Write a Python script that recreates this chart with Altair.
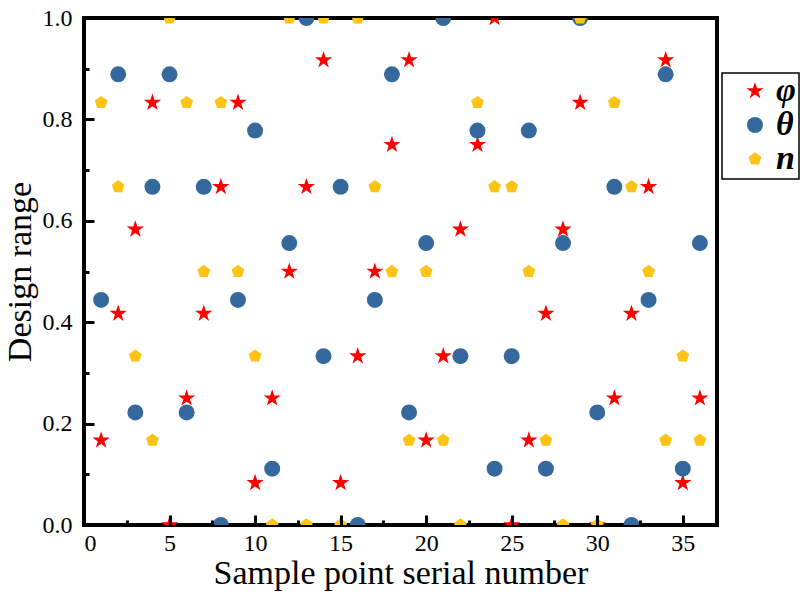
import altair as alt
import pandas as pd

# ---- data ----
sample_no = list(range(1, 37))
phi = [0.167, 0.417, 0.583, 0.833, 0.0, 0.25, 0.417, 0.667, 0.833, 0.083,
       0.25, 0.5, 0.667, 0.917, 0.083, 0.333, 0.5, 0.75, 0.917, 0.167,
       0.333, 0.583, 0.75, 1.0, 0.0, 0.167, 0.417, 0.583, 0.833, 0.0,
       0.25, 0.417, 0.667, 0.917, 0.083, 0.25]
theta = [0.444, 0.889, 0.222, 0.667, 0.889, 0.222, 0.667, 0.0, 0.444, 0.778,
         0.111, 0.556, 1.0, 0.333, 0.667, 0.0, 0.444, 0.889, 0.222, 0.556,
         1.0, 0.333, 0.778, 0.111, 0.333, 0.778, 0.111, 0.556, 1.0, 0.222,
         0.667, 0.0, 0.444, 0.889, 0.111, 0.556]
n_vals = [0.833, 0.667, 0.333, 0.167, 1.0, 0.833, 0.5, 0.833, 0.5, 0.333,
          0.0, 1.0, 0.0, 1.0, 0.0, 1.0, 0.667, 0.5, 0.167, 0.5,
          0.167, 0.0, 0.833, 0.667, 0.667, 0.5, 0.167, 0.0, 1.0, 0.0,
          0.833, 0.667, 0.5, 0.167, 0.333, 0.167]
series_names = ["φ", "θ", "n"]
x_major = [0, 5, 10, 15, 20, 25, 30, 35]
x_minor = [2.5, 7.5, 12.5, 17.5, 22.5, 27.5, 32.5]
y_major = [0.0, 0.2, 0.4, 0.6, 0.8, 1.0]
y_minor = [0.1, 0.3, 0.5, 0.7, 0.9]

rows = []
for name, vals in zip(series_names, [phi, theta, n_vals]):
    for s, v in zip(sample_no, vals):
        rows.append({"sample": s, "value": v, "series": name})
df = pd.DataFrame(rows)

STAR = ("M0,-1L0.225,-0.309L0.951,-0.309L0.363,0.118L0.588,0.809L0,0.382"
        "L-0.588,0.809L-0.363,0.118L-0.951,-0.309L-0.225,-0.309Z")
PENT = "M0,-1L0.951,-0.309L0.588,0.809L-0.588,0.809L-0.951,-0.309Z"

FONT = "Liberation Serif"
TICK = 10
MAJOR_DASH = [10, 2]        # full-length major tick
MINOR_DASH = [0, 5, 5, 0]   # only the outer half of a tick is drawn -> short minor tick

x_axis = alt.Axis(
    title="Sample point serial number",
    values=sorted(x_major + x_minor),
    labelExpr="datum.value % 5 == 0 ? datum.label : ''",
    ticks=True, tickSize=TICK, tickWidth=3, tickColor="black", offset=-TICK,
    tickOpacity=1,
    tickDash={"condition": {"test": "datum.value % 5 != 0", "value": MINOR_DASH},
              "value": MAJOR_DASH},
    domain=False, grid=False, labelPadding=6, labelFontSize=24,
    titleFontSize=34, titlePadding=1, labelFont=FONT, titleFont=FONT,
    titleFontWeight="normal", labelColor="black", titleColor="black",
    orient="bottom", zindex=1, labelOverlap=False,
)
y_axis = alt.Axis(
    title="Design range",
    values=sorted(y_major + y_minor),
    labelExpr="round(datum.value * 10) % 2 == 0 ? format(datum.value, '.1f') : ''",
    ticks=True, tickSize=TICK, tickWidth=3, tickColor="black", offset=-TICK,
    tickOpacity=1,
    tickDash={"condition": {"test": "round(datum.value * 10) % 2 == 1", "value": MINOR_DASH},
              "value": MAJOR_DASH},
    domain=False, grid=False, labelPadding=12, labelFontSize=24,
    titleFontSize=34, titlePadding=5, labelFont=FONT, titleFont=FONT,
    titleFontWeight="normal", labelColor="black", titleColor="black",
    orient="left", zindex=1, labelOverlap=False,
)

chart = alt.Chart(df).mark_point(filled=True, opacity=1, clip=True, strokeWidth=0).encode(
    x=alt.X("sample:Q", scale=alt.Scale(domain=[0, 37], nice=False), axis=x_axis),
    y=alt.Y("value:Q", scale=alt.Scale(domain=[0, 1], nice=False), axis=y_axis),
    color=alt.Color("series:N", scale=alt.Scale(domain=series_names,
                                                range=["#FF0000", "#35689C", "#FFC316"]),
                    title=None),
    shape=alt.Shape("series:N", scale=alt.Scale(domain=series_names,
                                                range=[STAR, "circle", PENT]),
                    title=None),
    size=alt.Size("series:N", scale=alt.Scale(domain=series_names, range=[330, 180, 320]),
                  title=None),
).properties(
    width=633, height=507,
    background="white",
    autosize=alt.AutoSizeParams(type="none"),
    padding={"left": 84, "top": 18, "right": 85, "bottom": 70},
).configure_view(
    stroke="black", strokeWidth=4
).configure_legend(
    orient="none", legendX=638, legendY=55,
    strokeColor="black", strokeWidth=1.5, padding=3,
    labelFont=FONT, labelFontSize=34, labelFontStyle="italic", labelFontWeight="bold",
    labelColor="black", symbolOffset=13, labelOffset=4, rowPadding=0, clipHeight=30,
)

chart.save("out.html", embed_options={"renderer": "svg", "actions": False})
